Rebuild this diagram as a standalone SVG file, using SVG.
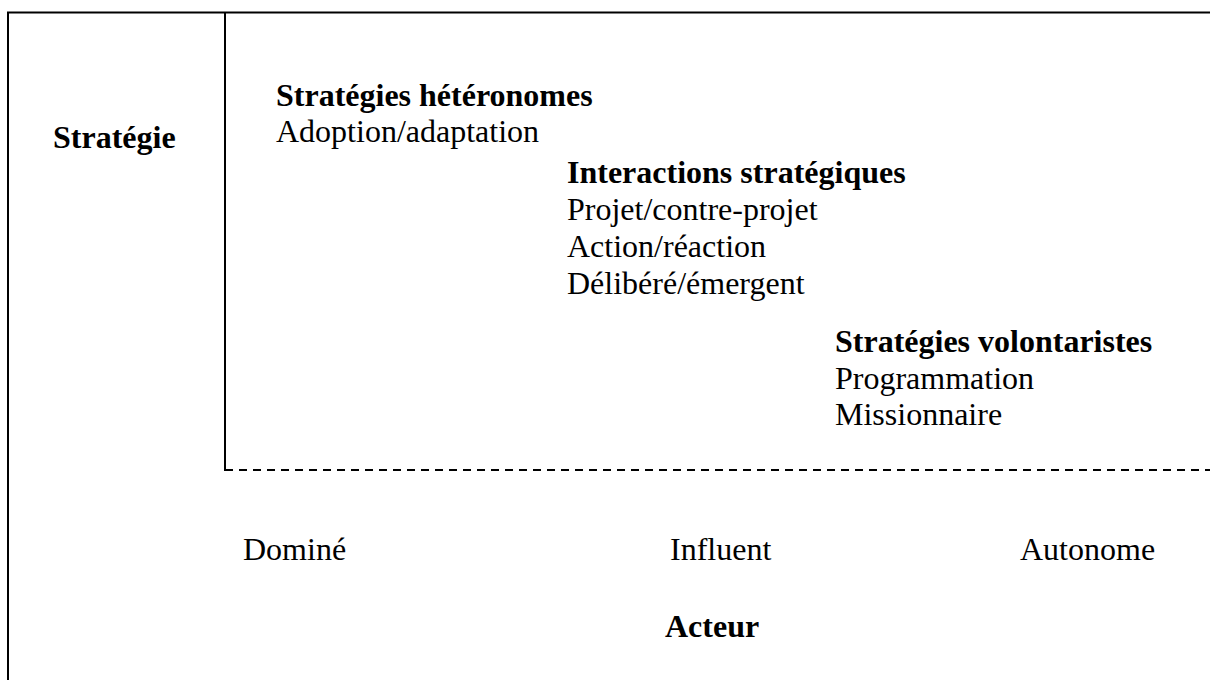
<svg xmlns="http://www.w3.org/2000/svg" width="1210" height="680" viewBox="0 0 1210 680">
<style>
text { font-family: "Liberation Serif", "Times New Roman", serif; font-size: 32px; fill: #000; }
.b { font-weight: bold; }
.ln { stroke: #000; stroke-width: 2; fill: none; }
.dash { stroke: #000; stroke-width: 2; stroke-dasharray: 8 6; fill: none; }
</style>
<rect width="1210" height="680" fill="#fff"/>
<g id="frame">
<line class="ln" x1="7" y1="12.5" x2="1210" y2="12.5" stroke-width="2.5"/>
<line class="ln" x1="8" y1="12" x2="8" y2="680"/>
<line class="ln" x1="225" y1="12" x2="225" y2="471"/>
<line class="dash" x1="225" y1="470" x2="1210" y2="470"/>
</g>
<g id="axis-strategie"><text class="b" x="53" y="148">Stratégie</text></g>
<g id="heteronomes">
<text class="b" x="276" y="106">Stratégies hétéronomes</text>
<text x="276" y="142">Adoption/adaptation</text>
</g>
<g id="interactions">
<text class="b" x="567" y="183">Interactions stratégiques</text>
<text x="567" y="220">Projet/contre-projet</text>
<text x="567" y="257">Action/réaction</text>
<text x="567" y="294">Délibéré/émergent</text>
</g>
<g id="volontaristes">
<text class="b" x="835" y="352">Stratégies volontaristes</text>
<text x="835" y="389">Programmation</text>
<text x="835" y="425">Missionnaire</text>
</g>
<g id="axis-acteur">
<text x="243" y="560">Dominé</text>
<text x="670" y="560">Influent</text>
<text x="1020" y="560">Autonome</text>
<text class="b" x="665" y="637">Acteur</text>
</g>
</svg>
